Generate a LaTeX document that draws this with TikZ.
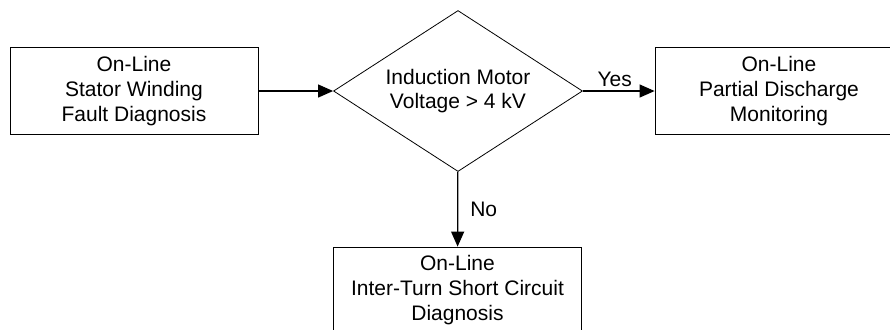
\documentclass[tikz,border=0pt]{standalone}
\usepackage{fontspec}
\setmainfont{Liberation Sans}
\usepackage{tikz}
\usetikzlibrary{arrows.meta,positioning,shapes.geometric}

\begin{document}
\begin{tikzpicture}[
    x=0.5pt, y=-0.5pt,
    box/.style={draw, minimum width=124pt, minimum height=43.5pt, inner sep=0pt, align=center, font=\fontsize{10.5}{12.5}\selectfont},
    decision/.style={draw, diamond, aspect=1.55, minimum width=124.5pt, minimum height=80.5pt, inner sep=0pt, align=center, font=\fontsize{10.5}{12.2}\selectfont},
    tag/.style={font=\fontsize{10.5}{12.5}\selectfont, inner sep=2pt},
    arrow/.style={-{Triangle[length=7.5pt,width=6.5pt]}, semithick}
]
\useasboundingbox (0,0) rectangle (890,329);

\node[box] (stator) at (134, 91) {On-Line\\Stator Winding\\Fault Diagnosis};
\node[decision] (motor) at (458, 91) {Induction Motor\\Voltage > 4 kV};
\node[box] (pd) at (779, 91) {On-Line\\Partial Discharge\\Monitoring};
\node[box] (itsc) at (457.5, 290.5) {On-Line\\Inter-Turn Short Circuit\\Diagnosis};

\draw[arrow] (stator) -- (motor);
\draw[arrow] (motor) -- node[tag, anchor=south, xshift=-2pt] {Yes} (pd);
\draw[arrow] (motor) -- node[tag, anchor=west, xshift=4pt] {No} (itsc);
\end{tikzpicture}
\end{document}
